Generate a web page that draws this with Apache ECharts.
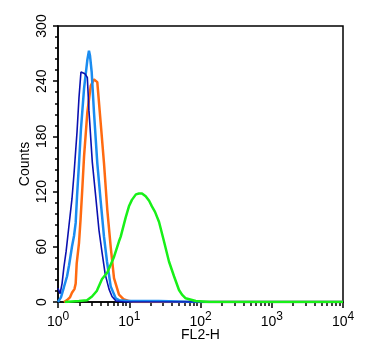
<!DOCTYPE html>
<html><head><meta charset="utf-8">
<script src="https://cdn.jsdelivr.net/npm/echarts@6/dist/echarts.min.js"></script>
<style>html,body{margin:0;padding:0;background:#fff}#c{width:391px;height:358px}</style>
</head><body><div id="c"></div>
<script>
// Navy (dark blue) histogram
const navyX = [1.0, 1.07, 1.14, 1.21, 1.30, 1.43, 1.57, 1.68, 1.85, 1.97, 2.10, 2.24, 2.39, 2.58, 2.72, 3.03, 3.38, 3.76, 4.15, 4.6, 5.2, 5.73, 6.52, 8.4, 10000];
const navyY = [15, 9, 20, 38, 55, 84, 112, 140, 185, 222, 250, 252, 248, 244, 208, 152, 115, 78, 54, 30, 14, 6, 1, 0, 0];
// Light blue histogram
const lblueX = [1.0, 1.10, 1.21, 1.34, 1.43, 1.57, 1.68, 1.77, 1.85, 1.97, 2.10, 2.32, 2.58, 2.72, 2.81, 2.97, 3.20, 3.56, 3.97, 4.42, 4.87, 5.49, 6.45, 7.18, 9.9, 26, 95, 10000];
const lblueY = [0, 5, 16, 28, 40, 60, 72, 86, 115, 150, 188, 232, 263, 273, 268, 250, 206, 151, 110, 71, 44, 17, 4, 2, 1, 1, 0, 0];
// Orange histogram
const orangeX = [1.21, 1.34, 1.47, 1.57, 1.70, 1.77, 1.83, 1.97, 2.07, 2.19, 2.32, 2.58, 2.88, 3.20, 3.56, 3.97, 4.42, 4.92, 5.49, 6.11, 7.18, 8.3, 10.0, 12.0, 10000];
const orangeY = [0, 2, 5, 10, 14, 20, 42, 64, 89, 122, 158, 206, 235, 242, 239, 195, 151, 100, 60, 26, 8, 3, 1, 0, 0];
// Green histogram
const greenX = [1.25, 1.97, 2.55, 3.0, 3.5, 4.15, 4.92, 6.11, 7.18, 7.59, 8.92, 9.9, 10.9, 12.4, 13.7, 15.1, 17.0, 19.0, 20.8, 23.0, 26.2, 30.7, 36.1, 42.5, 49.9, 55, 61.9, 85.6, 133, 10000];
const greenY = [0, 1, 2, 6, 12, 25, 32, 49, 66, 71, 92, 104, 111, 117, 118, 118, 115, 110, 104, 98, 87, 66, 44, 28, 13, 8, 4, 1, 0, 0];

const yTicks = [0, 60, 120, 180, 240, 300];
const xRange = [1, 10000];

function pairs(xs, ys) { return xs.map((x, i) => [x, ys[i]]); }

// minor tick positions (log10 space) for 2..9 within each decade
const minorTickPos = [];
for (let d = 0; d < 4; d++) for (let k = 2; k <= 9; k++) minorTickPos.push(d + Math.log10(k));

const GRID = { left: 58, right: 48, top: 26, bottom: 56 };
const plotH = 358 - GRID.top - GRID.bottom;
const MINOR_LEN = 4;
const FONT = 'Liberation Sans, Arial, Helvetica, sans-serif';
const chart = echarts.init(document.getElementById('c'), null, { renderer: 'canvas' });
function line(name, xs, ys, color, w) {
  return { name, type: 'line', data: pairs(xs, ys), showSymbol: false, symbol: 'none',
    lineStyle: { color, width: w }, itemStyle: { color }, xAxisIndex: 0, yAxisIndex: 0 };
}
chart.setOption({
  animation: false,
  backgroundColor: '#fff',
  grid: Object.assign({ show: true, borderColor: '#000', borderWidth: 1.5, backgroundColor: 'transparent' }, GRID),
  xAxis: [{
    type: 'log', logBase: 10, min: xRange[0], max: xRange[1], position: 'bottom',
    name: 'FL2-H', nameLocation: 'middle', nameGap: 26, nameMoveOverlap: false,
    nameTextStyle: { color: '#000', fontSize: 14, fontFamily: FONT },
    axisLine: { lineStyle: { color: '#000', width: 1.5 } },
    axisTick: { show: true, length: 6, lineStyle: { color: '#000', width: 1.5 } },
    splitLine: { show: false }, minorTick: { show: false }, minorSplitLine: { show: false },
    axisLabel: {
      margin: 9, color: '#000',
      formatter: v => '{a|10}{b|' + Math.round(Math.log10(v)) + '}',
      rich: {
        a: { fontSize: 14, lineHeight: 18, verticalAlign: 'bottom', color: '#000', fontFamily: FONT },
        b: { fontSize: 12, lineHeight: 18, verticalAlign: 'top', color: '#000', fontFamily: FONT }
      }
    }
  }, {
    type: 'value', min: 0, max: 4, position: 'top', offset: -(plotH + MINOR_LEN),
    axisLine: { show: true, lineStyle: { color: '#000', width: 1, opacity: 0 } },
    axisLabel: { show: false }, splitLine: { show: false },
    axisTick: { show: true, inside: false, length: MINOR_LEN, customValues: minorTickPos, lineStyle: { color: '#000', width: 1.5, opacity: 1 } }
  }],
  yAxis: {
    type: 'value', min: yTicks[0], max: yTicks[yTicks.length - 1], interval: 60,
    name: 'Counts', nameLocation: 'middle', nameGap: 26, nameMoveOverlap: false,
    nameTextStyle: { color: '#000', fontSize: 14, fontFamily: FONT },
    axisLine: { show: true, lineStyle: { color: '#000', width: 1.5 } },
    axisTick: { show: true, length: 5, lineStyle: { color: '#000', width: 1.5 } },
    minorTick: { show: true, splitNumber: 5, length: 3, lineStyle: { color: '#000', width: 1.5 } },
    splitLine: { show: false },
    axisLabel: { rotate: 90, margin: 9, color: '#000', fontSize: 14, fontFamily: FONT }
  },
  series: [
    line('orange', orangeX, orangeY, '#ff6a10', 2.5),
    line('lightblue', lblueX, lblueY, '#1a8cf0', 2.5),
    line('navy', navyX, navyY, '#0a10b0', 1.6),
    line('green', greenX, greenY, '#18f018', 2.5)
  ]
});
</script></body></html>
